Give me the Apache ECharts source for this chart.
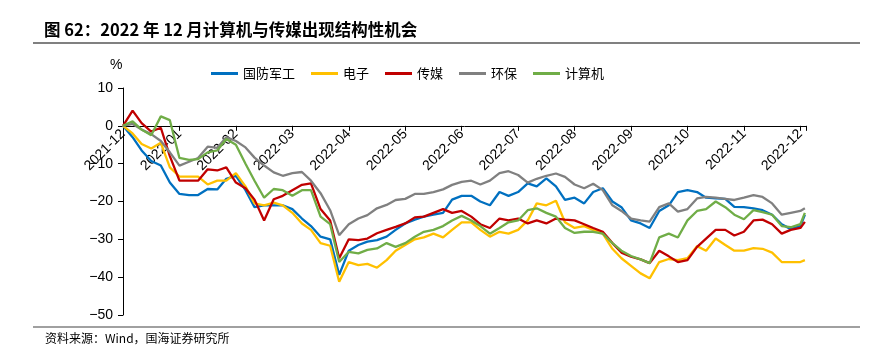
<!DOCTYPE html>
<html>
<head>
<meta charset="utf-8">
<script src="https://cdn.jsdelivr.net/npm/echarts@6/dist/echarts.min.js"></script>
<style>
html,body{margin:0;padding:0;background:#fff;}
#c{width:875px;height:350px;}
</style>
</head>
<body>
<div id="c"></div>
<script>
// month tick labels (x position = month offset from 2021-12)
var monthLabels = ['2021-12','2022-01','2022-02','2022-03','2022-04','2022-05','2022-06','2022-07','2022-08','2022-09','2022-10','2022-11','2022-12'];
// sample positions, in months since start of 2021-12
var xPos = [0,0.17,0.33,0.5,0.67,0.83,1,1.17,1.33,1.5,1.67,1.83,2,2.17,2.33,2.5,2.67,2.83,3,3.17,3.33,3.5,3.67,3.83,4,4.17,4.33,4.5,4.67,4.83,5,5.17,5.33,5.5,5.67,5.83,6,6.17,6.33,6.5,6.67,6.83,7,7.17,7.33,7.5,7.67,7.83,8,8.17,8.33,8.5,8.67,8.83,9,9.17,9.33,9.5,9.67,9.83,10,10.17,10.33,10.5,10.67,10.83,11,11.17,11.33,11.5,11.67,11.83,12,12.08];
var seriesNames = ['国防军工','电子','传媒','环保','计算机'];
var defense = [0,-3,-6.5,-9.3,-10.5,-15,-18,-18.3,-18.3,-16.7,
  -16.8,-14,-13.2,-17,-21.5,-21,-21,-21,-22,-24.5,
  -26.5,-29.3,-30,-39.4,-33,-31.5,-30.6,-30.2,-29.3,-27.5,
  -25.8,-24.8,-24,-23.5,-23,-19.5,-18.5,-18.5,-20,-21,
  -17.5,-18.5,-17.5,-15.2,-16,-13.9,-16,-19.6,-19,-20.5,
  -17.5,-16.5,-20,-21.5,-25,-25.8,-27,-22.5,-21,-17.5,
  -17,-17.5,-19,-19.2,-19.3,-21.4,-21.5,-21.8,-22.3,-23.5,
  -26,-27.3,-26.5,-23.5];
var electronics = [0,-2,-4.8,-6,-4.5,-11,-13.4,-13.4,-13.4,-15.5,
  -14.5,-14.5,-12.5,-16,-20.5,-21,-20.3,-21,-23,-25.8,
  -27.5,-31,-31.7,-41.2,-36,-36.8,-36.5,-37.5,-35.5,-33,
  -31.5,-30,-29.5,-28.5,-29.5,-27.5,-25.5,-25.5,-27.5,-29.3,
  -28,-28.5,-27.5,-25,-20.5,-21,-19.8,-25.5,-27,-26.5,
  -27.5,-28.5,-32.5,-35,-37,-39,-40.3,-36,-35.2,-35.5,
  -35,-31.8,-33,-29.8,-31.5,-33,-33,-32.3,-32.5,-33.5,
  -36,-36,-36,-35.5];
var media = [0,4,0.7,-1.5,-0.5,-8,-14.5,-14.5,-14.5,-11.5,
  -11.8,-11,-15,-16.5,-19.5,-25,-19.4,-18.5,-17,-15.6,
  -15.2,-22,-25,-35,-30,-30.2,-29.8,-28.4,-27.5,-26.7,
  -25.8,-24.2,-24,-23,-22,-23,-22.5,-24,-26,-27,
  -24.5,-25,-24.5,-25.8,-25,-25.8,-24.5,-24.8,-25,-26,
  -27,-28,-31,-33.5,-34.6,-35.3,-36.3,-33,-34.5,-36,
  -35.5,-32,-29.8,-27.5,-27.5,-29,-28,-25,-24.8,-26,
  -28.5,-27.5,-27,-25.4];
var environment = [0,0.5,-1,-2.2,-4,-7,-10.5,-9.5,-8.5,-5.5,
  -5.8,-3,-4,-5.7,-8.4,-10.5,-12.3,-13.2,-12.5,-12.2,
  -14.5,-17.8,-22.3,-28.9,-26,-24.5,-23.6,-21.8,-20.9,-19.6,
  -19.3,-18,-18,-17.5,-16.8,-15.6,-14.8,-14.5,-15.5,-14.5,
  -12.5,-12,-13,-15,-14,-13.2,-12.6,-13.5,-15.5,-16.5,
  -15.3,-17,-21,-22.5,-24.5,-25,-25.3,-21.5,-20.5,-22.7,
  -22,-19.2,-18.8,-19,-19.3,-19.6,-19,-18.3,-18.8,-20.5,
  -23.5,-23,-22.5,-21.8];
var computer = [0,1.2,-1,-2.5,2.5,1.5,-8.5,-9,-8.8,-7,
  -6.5,-3.5,-5,-10,-14.5,-19,-16.7,-17,-18.5,-17,
  -17,-24,-26,-36,-33.3,-33.7,-32.8,-32.4,-31,-32,
  -31,-29.3,-28,-27.5,-26.5,-25,-23.8,-25,-26.5,-28.5,
  -27,-25.5,-25,-22.3,-21.8,-23,-24,-27,-28.3,-28,
  -28,-28.5,-31,-33,-34.4,-35.3,-36.3,-29.5,-28.5,-29.5,
  -25,-22.5,-22,-20,-21.5,-23.5,-24.7,-22.3,-22.8,-23.5,
  -26.5,-26.8,-26,-23];
var colors = ['#0070C0','#FFC000','#C00000','#808080','#70AD47'];
var allValues = [defense, electronics, media, environment, computer];

var yMin = -50, yMax = 10;
var gridTop = 88, gridBottom = 35, chartH = 350;

function pairs(vals){ return xPos.map(function(x,k){ return [x, vals[k]]; }); }

// place the date axis where y = 0 crosses the plot
var plotH = chartH - gridTop - gridBottom;
var zeroOffset = -plotH * (0 - yMin) / (yMax - yMin);

var chart = echarts.init(document.getElementById('c'), null, {renderer:'canvas'});
var option = {
  animation: false,
  backgroundColor: '#fff',
  color: colors,
  grid: {left:123, right:69, top:gridTop, bottom:gridBottom, containLabel:false},
  legend: {
    data: seriesNames,
    left: 206, top: 62,
    icon: 'rect', itemWidth: 27, itemHeight: 3, itemGap: 16,
    textStyle: {fontSize:13, color:'#000', fontFamily:'Noto Sans CJK SC'}
  },
  xAxis: {
    type:'value', min:0, max:12.1, interval:1, position:'bottom', offset: zeroOffset, z:0,
    axisLine:{show:true, onZero:false, lineStyle:{color:'#000', width:1}},
    axisTick:{show:true, length:5, lineStyle:{color:'#000'}},
    splitLine:{show:false},
    axisLabel:{
      rotate:45, margin:6, fontSize:14, color:'#000', fontFamily:'Liberation Sans',
      formatter:function(v){ return (Math.abs(v-Math.round(v))<1e-6 && monthLabels[Math.round(v)]) ? monthLabels[Math.round(v)] : ''; }
    }
  },
  yAxis: {
    type:'value', min:yMin, max:yMax, interval:10,
    axisLine:{show:true, onZero:false, lineStyle:{color:'#000', width:1}},
    axisTick:{show:true, length:5, lineStyle:{color:'#000'}},
    splitLine:{show:false},
    axisLabel:{fontSize:14, color:'#000', margin:10, fontFamily:'Liberation Sans',
      formatter:function(v){ return String(v).replace('-', '\u2212'); }}
  },
  graphic: [
    {type:'text', left:44, top:21, style:{text:'图 62：2022 年 12 月计算机与传媒出现结构性机会', font:'bold 16.5px "Noto Sans CJK SC"', fill:'#000'}},
    {type:'line', shape:{x1:33,y1:43,x2:860,y2:43}, style:{stroke:'#808080', lineWidth:2}},
    {type:'text', left:110, top:58, style:{text:'%', font:'14px "Liberation Sans"', fill:'#000'}},
    {type:'line', shape:{x1:33,y1:327,x2:860,y2:327}, style:{stroke:'#808080', lineWidth:1.5}},
    {type:'text', left:45, top:332, style:{text:'资料来源：Wind，国海证券研究所', font:'12px "Noto Sans CJK SC"', fill:'#000'}}
  ],
  series: seriesNames.map(function(n,i){
    return {name:n, type:'line', data:pairs(allValues[i]), showSymbol:false, symbol:'none',
      lineStyle:{width:2.3, color:colors[i]}, itemStyle:{color:colors[i]}, z:3+i};
  })
};
chart.setOption(option);
</script>
</body>
</html>
